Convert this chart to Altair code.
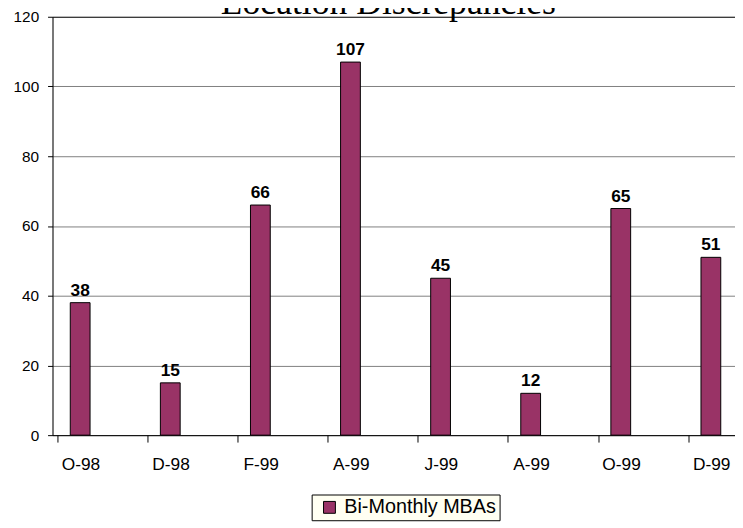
import altair as alt
import pandas as pd

# ---- data ----
categories = ["O-98", "D-98", "F-99", "A-99", "J-99", "A-99", "O-99", "D-99"]
values = [38, 15, 66, 107, 45, 12, 65, 51]
series_name = "Bi-Monthly MBAs"
title_text = "Location Discrepancies"
y_ticks = [0, 20, 40, 60, 80, 100, 120]

# ---- layout constants ----
W, H = 690, 423
BAND = 92.43          # px per category band
BAR_OFF = 23.3        # px from band start to bar centre
x_max = W / BAND

df = pd.DataFrame({
    "idx": list(range(len(categories))),
    "category": categories,
    "value": values,
    "series": [series_name] * len(categories),
})

label_expr = "[" + ",".join(f"'{c}'" for c in categories) + "][datum.value]"

x_enc = alt.X(
    "pos:Q",
    scale=alt.Scale(domain=[0, x_max], nice=False, zero=False),
    axis=alt.Axis(
        values=list(range(len(categories))),
        labelExpr=label_expr,
        labelOffset=BAR_OFF,
        labelFlush=False,
        labelOverlap=False,
        tickSize=7,
        labelPadding=13.5,
        grid=False,
        title=None,
        domainColor="black",
        tickColor="black",
        labelFont="Liberation Sans",
        labelFontSize=17.5,
        labelColor="black",
    ),
)

y_enc = alt.Y(
    "value:Q",
    scale=alt.Scale(domain=[0, 120], nice=False),
    axis=alt.Axis(
        values=y_ticks,
        title=None,
        grid=True,
        gridColor={"condition": {"test": "datum.value == 120", "value": "black"}, "value": "#808080"},
        gridWidth=1,
        tickSize=5,
        tickColor="black",
        domainColor="black",
        labelPadding=9,
        labelFont="Liberation Sans",
        labelFontSize=15.5,
        labelColor="black",
    ),
)

base = alt.Chart(df).transform_calculate(
    pos=f"datum.idx + {BAR_OFF / BAND}"
)

bars = base.mark_bar(size=20, orient="vertical", stroke="black", strokeWidth=1).encode(
    x=x_enc,
    y=y_enc,
    color=alt.Color(
        "series:N",
        scale=alt.Scale(range=["#993366"]),
        legend=alt.Legend(
            title=None,
            orient="none",
            legendX=262,
            legendY=483,
            symbolType="square",
            symbolSize=144,
            symbolStrokeColor="black",
            symbolStrokeWidth=1,
            symbolOffset=5,
            labelOffset=5,
            labelFont="Liberation Sans",
            labelFontSize=20,
            labelColor="black",
            fillColor="#FFFFF2",
            strokeColor="black",
            padding=3,
        ),
    ),
)

value_labels = base.mark_text(
    font="Liberation Sans", fontSize=17.5, fontWeight="bold",
    baseline="alphabetic", align="center", dy=-7, color="black",
).encode(
    x=alt.X("pos:Q"),
    y=alt.Y("value:Q"),
    text=alt.Text("value:Q"),
)

title = alt.Chart(pd.DataFrame({"t": [title_text]})).mark_text(
    font="Liberation Serif", fontSize=36, align="center", baseline="alphabetic", color="black",
).encode(
    text="t:N",
    x=alt.value(339.5),
    y=alt.value(-2.5),
)

chart = alt.layer(bars, value_labels, title).properties(
    width=W,
    height=H,
    padding={"left": 45, "top": 6, "right": 0, "bottom": 91},
    autosize=alt.AutoSizeParams(type="none"),
).configure_view(stroke=None).configure(background="white")

chart.save("out.html", embed_options={"renderer": "svg", "actions": False})
